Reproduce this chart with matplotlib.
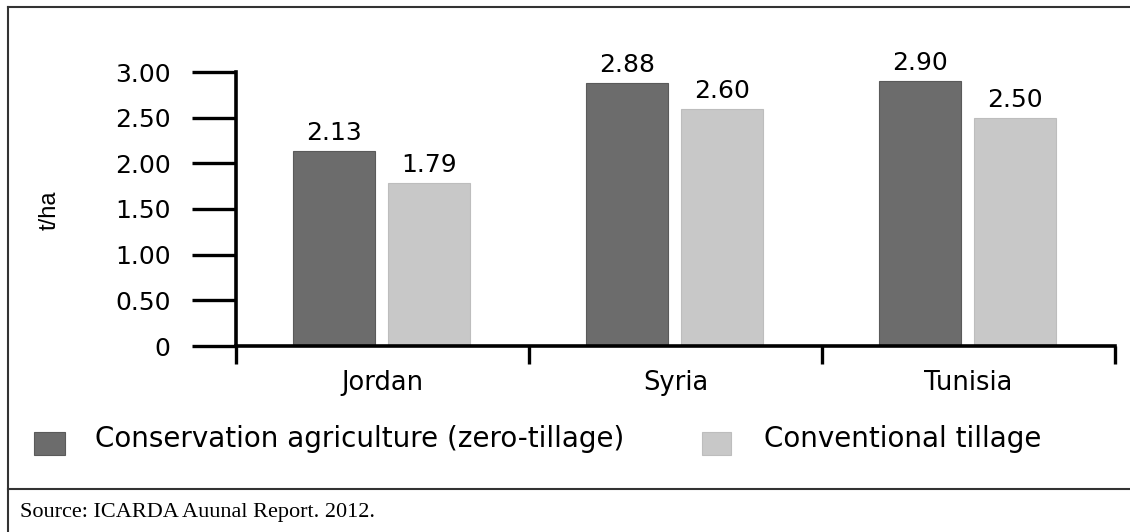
import numpy as np
import matplotlib
matplotlib.use("Agg")
from matplotlib import pyplot as plt
from matplotlib.lines import Line2D
from matplotlib.patches import Rectangle

# the reference lettering is wide, DejaVu Sans is the closest in width
plt.rcParams['font.family'] = ['DejaVu Sans']

# data (t/ha)
countries = ['Jordan', 'Syria', 'Tunisia']
zero_tillage = [2.13, 2.88, 2.90]
conventional = [1.79, 2.60, 2.50]
zero_labels = ['2.13', '2.88', '2.90']
conv_labels = ['1.79', '2.60', '2.50']
series_names = ['Conservation agriculture (zero-tillage)', 'Conventional tillage']
yticks = [0, 0.5, 1.0, 1.5, 2.0, 2.5, 3.0]
ytick_labels = ['0', '0.50', '1.00', '1.50', '2.00', '2.50', '3.00']

dark = '#6c6c6c'
light = '#c8c8c8'

W, H = 1130, 532
fig = plt.figure(figsize=(W / 100, H / 100), dpi=100)

ax = fig.add_axes([236 / W, 1 - 346 / H, (1115 - 236) / W, (346 - 72) / H])

x = np.arange(len(countries))
bw = 0.28
b1 = ax.bar(x - 0.165, zero_tillage, bw, color=dark, edgecolor='#5a5a5a', linewidth=0.8)
b2 = ax.bar(x + 0.16, conventional, bw, color=light, edgecolor='#bdbdbd', linewidth=0.8)

for bars, labels in [(b1, zero_labels), (b2, conv_labels)]:
    for rect, lab in zip(bars, labels):
        ax.text(rect.get_x() + rect.get_width() / 2, rect.get_height() + 0.12, lab,
                ha='center', va='baseline', fontsize=18)

ax.set_xlim(-0.5, len(countries) - 0.5)
ax.set_ylim(0, 3.0)

# y axis: long ticks to the left
ax.set_yticks(yticks)
ax.set_yticklabels(ytick_labels, fontsize=18)
ax.tick_params(axis='y', direction='out', length=32, width=2.4, pad=15)

# x axis: ticks between categories, labels at centres
ax.set_xticks(np.arange(-0.5, len(countries), 1.0))
ax.set_xticklabels([])
ax.set_xticks(x, minor=True)
ax.set_xticklabels(countries, minor=True, fontsize=18.5)
ax.tick_params(axis='x', which='major', direction='out', length=13, width=2.4)
ax.tick_params(axis='x', which='minor', length=0, pad=17)

for s in ['top', 'right']:
    ax.spines[s].set_visible(False)
ax.spines['left'].set_linewidth(2.6)
ax.spines['bottom'].set_linewidth(2.6)

fig.text(50 / W, 1 - 210 / H, 't/ha', rotation=90, ha='center', va='center',
         fontsize=17, family=['Liberation Sans Narrow', 'Liberation Sans'])

# legend drawn by hand along the bottom of the box
sq_y = 1 - 455 / H
sq_h = 23 / H
fig.patches.append(Rectangle((34 / W, sq_y), 31 / W, sq_h, transform=fig.transFigure,
                             facecolor=dark, edgecolor='#5a5a5a', lw=0.8))
fig.text(95 / W, 1 - 447 / H, series_names[0], ha='left', va='baseline', fontsize=20)
fig.patches.append(Rectangle((702 / W, sq_y), 29 / W, sq_h, transform=fig.transFigure,
                             facecolor=light, edgecolor='#bdbdbd', lw=0.8))
fig.text(764 / W, 1 - 447 / H, series_names[1], ha='left', va='baseline', fontsize=20)

# frame around the figure and source line
fig.add_artist(Line2D([8 / W, 1], [1 - 7 / H, 1 - 7 / H], transform=fig.transFigure,
                      color='#333333', lw=1.5))
fig.add_artist(Line2D([8 / W, 8 / W], [0, 1 - 7 / H], transform=fig.transFigure,
                      color='#333333', lw=1.5))
fig.add_artist(Line2D([8 / W, 1], [1 - 489 / H, 1 - 489 / H], transform=fig.transFigure,
                      color='#333333', lw=1.5))
fig.text(20 / W, 1 - 512 / H, 'Source: ICARDA Auunal Report. 2012.', ha='left', va='center',
         fontsize=16, family=['Liberation Serif', 'DejaVu Serif'])

fig.savefig('out.png', dpi=100)
